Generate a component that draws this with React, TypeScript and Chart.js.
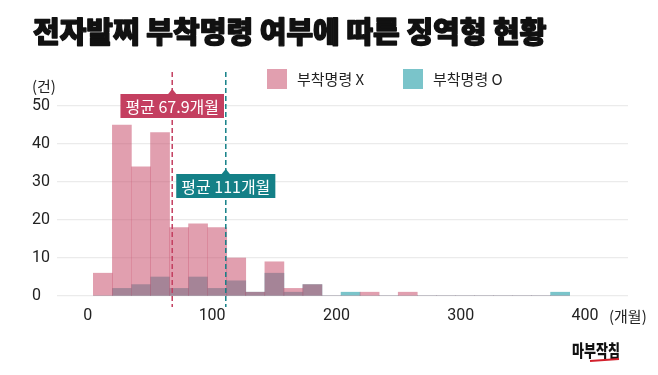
import React, { useEffect, useRef } from "react";
import { Chart, registerables } from "chart.js";

Chart.register(...registerables);

// ---------- data ----------
const titleText = "전자발찌 부착명령 여부에 따른 징역형 현황";
const seriesLabels = ["부착명령 X", "부착명령 O"];
// histogram bin centres (months)
const binCenters = [
  12.1, 27.4, 42.8, 58.1, 73.4, 88.7, 104.1, 119.4, 134.7, 150.1, 165.4, 180.7,
  196.0, 211.4, 226.7, 242.0, 257.4, 272.7, 288.0, 303.4, 318.7, 334.0, 349.4,
  364.7, 380.0,
];
const countsNoOrder = [6, 45, 34, 43, 18, 19, 18, 10, 1, 9, 2, 3, 0, 0, 1, 0, 1, 0, 0, 0, 0, 0, 0, 0, 0];
const countsOrder = [0, 2, 3, 5, 2, 5, 2, 4, 1, 6, 1, 3, 0, 1, 0, 0, 0, 0, 0, 0, 0, 0, 0, 0, 1];
const meanValues = [67.9, 111];
const meanLabels = ["평균 67.9개월", "평균 111개월"];
const xTicks = [0, 100, 200, 300, 400];
const yTicks = [0, 10, 20, 30, 40, 50];
const yUnit = "(건)";
const xUnit = "(개월)";
const logoText = "마부작침";

// ---------- styles ----------
const pinkFill = "rgba(200, 80, 110, 0.55)";
const tealFill = "rgba(40, 160, 170, 0.62)";
const pinkStrong = "#c43f60";
const tealStrong = "#148087";
const FONT = "Roboto, 'Noto Sans CJK KR', sans-serif";
const KFONT = "'Noto Sans CJK KR', Roboto, sans-serif";

const decorPlugin = {
  id: "decor",
  afterDatasetsDraw(chart: any) {
    const ctx = chart.ctx as CanvasRenderingContext2D;
    const xs = chart.scales.x;
    const colors = [pinkStrong, tealStrong];
    const boxTops = [94, 174];
    ctx.save();
    meanValues.forEach((v, i) => {
      const px = xs.getPixelForValue(v);
      ctx.beginPath();
      ctx.setLineDash([5, 3]);
      ctx.lineWidth = 1.5;
      ctx.strokeStyle = colors[i];
      ctx.moveTo(px, 72);
      ctx.lineTo(px, 307);
      ctx.stroke();
    });
    ctx.setLineDash([]);
    meanValues.forEach((v, i) => {
      const px = xs.getPixelForValue(v);
      ctx.font = `400 16px ${KFONT}`;
      const tw = ctx.measureText(meanLabels[i]).width;
      const w = tw + 10;
      const h = 24;
      const top = boxTops[i];
      ctx.fillStyle = colors[i];
      ctx.fillRect(px - w / 2, top, w, h);
      ctx.beginPath();
      ctx.moveTo(px - 4.5, top + 0.5);
      ctx.lineTo(px, top - 5);
      ctx.lineTo(px + 4.5, top + 0.5);
      ctx.closePath();
      ctx.fill();
      ctx.fillStyle = "#ffffff";
      ctx.textAlign = "center";
      ctx.textBaseline = "middle";
      ctx.fillText(meanLabels[i], px, top + h / 2 + 1);
    });
    ctx.restore();
  },
  afterDraw(chart: any) {
    const ctx = chart.ctx as CanvasRenderingContext2D;
    const xs = chart.scales.x;
    ctx.save();
    // title
    ctx.fillStyle = "#111111";
    ctx.strokeStyle = "#111111";
    ctx.lineWidth = 1.4;
    ctx.lineJoin = "round";
    ctx.textAlign = "left";
    ctx.textBaseline = "middle";
    ctx.font = `900 29px ${KFONT}`;
    ctx.fillText(titleText, 33, 32, 517);
    ctx.strokeText(titleText, 33, 32, 517);
    // legend
    const legendX = [267, 403];
    const fills = [pinkFill, tealFill];
    seriesLabels.forEach((lab, i) => {
      ctx.fillStyle = fills[i];
      ctx.fillRect(legendX[i], 69, 20, 20);
      ctx.fillStyle = "#222222";
      ctx.font = `400 15px ${KFONT}`;
      ctx.textAlign = "left";
      ctx.textBaseline = "middle";
      ctx.fillText(lab, legendX[i] + 30, 79.5);
    });
    // units
    ctx.fillStyle = "#222222";
    ctx.font = `400 15px ${KFONT}`;
    ctx.textAlign = "left";
    ctx.fillText(yUnit, 32, 86);
    ctx.fillText(xUnit, xs.getPixelForValue(xTicks[xTicks.length - 1]) + 24, 316);
    // logo
    ctx.fillStyle = "#111111";
    ctx.font = `900 17px ${KFONT}`;
    ctx.fillText(logoText, 572, 351, 48);
    ctx.strokeStyle = "#d3212d";
    ctx.lineWidth = 2;
    ctx.beginPath();
    ctx.moveTo(590, 361);
    ctx.lineTo(619, 359);
    ctx.stroke();
    ctx.restore();
  },
};

export default function App() {
  const ref = useRef<HTMLCanvasElement>(null);
  useEffect(() => {
    const chart = new Chart(ref.current as HTMLCanvasElement, {
      type: "bar",
      data: {
        datasets: [
          {
            label: seriesLabels[0],
            data: binCenters.map((x, i) => ({ x, y: countsNoOrder[i] })),
            backgroundColor: pinkFill,
            borderWidth: 0,
            grouped: false,
            barPercentage: 1,
            categoryPercentage: 1,
          } as any,
          {
            label: seriesLabels[1],
            data: binCenters.map((x, i) => ({ x, y: countsOrder[i] })),
            backgroundColor: tealFill,
            borderWidth: 0,
            grouped: false,
            barPercentage: 1,
            categoryPercentage: 1,
          } as any,
        ],
      },
      options: {
        responsive: false,
        animation: false,
        events: [],
        layout: { padding: { left: 32, right: 30, top: 106, bottom: 49 } },
        plugins: { legend: { display: false }, tooltip: { enabled: false }, title: { display: false } },
        scales: {
          x: {
            type: "linear",
            offset: false,
            min: -24.8,
            max: 434.6,
            afterBuildTicks: (s: any) => {
              s.ticks = xTicks.map((v) => ({ value: v }));
            },
            afterFit: (s: any) => {
              s.height = 30;
            },
            grid: { display: false, drawTicks: false, offset: false },
            border: { display: false },
            ticks: { font: { family: FONT, size: 16 }, color: "#222222", padding: 10, maxRotation: 0, autoSkip: false },
          },
          y: {
            min: 0,
            max: 50,
            afterBuildTicks: (s: any) => {
              s.ticks = yTicks.map((v) => ({ value: v }));
            },
            afterFit: (s: any) => {
              s.width = 25;
            },
            grid: { color: "#ebebeb", lineWidth: 1.2, drawTicks: false },
            border: { display: false },
            ticks: { font: { family: FONT, size: 16 }, color: "#222222", crossAlign: "far", padding: 6 },
          },
        },
      } as any,
      plugins: [decorPlugin],
    });
    return () => chart.destroy();
  }, []);
  return (
    <div style={{ position: "fixed", left: 0, top: 0, width: 658, height: 375, background: "#ffffff" }}>
      <canvas ref={ref} width={658} height={375} style={{ display: "block", width: 658, height: 375 }} />
    </div>
  );
}
